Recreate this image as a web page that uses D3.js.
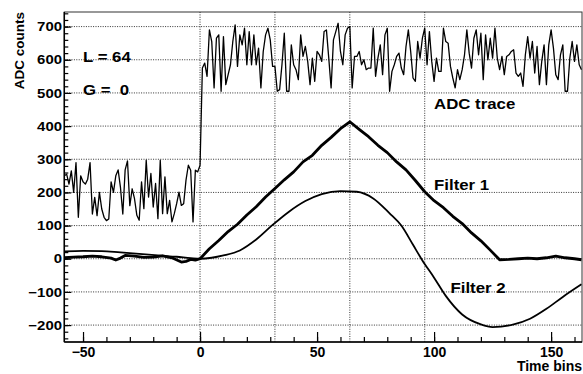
<!DOCTYPE html>
<html>
<head>
<meta charset="utf-8">
<script src="https://cdn.jsdelivr.net/npm/d3@7"></script>
<style>
  body { margin: 0; background: #fff; }
  text { font-family: "Liberation Sans", Arial, Helvetica, sans-serif; font-weight: bold; fill: #000; }
</style>
</head>
<body>
<div class="vis-trace"></div>
<script>
// ADC samples, one per time bin, starting at bin -58
const adcStart = -58;
const adcValues = [
  250, 255, 225, 265, 200, 290, 125, 250, 232, 225, 240, 290, 135, 185, 130, 200, 150, 125, 115, 120,
  232, 200, 250, 268, 215, 135, 268, 295,
  160, 211, 181, 131, 116, 232, 151, 297, 186, 257, 156, 227, 121, 297, 136, 247, 136, 176, 111, 136,
  166, 201, 161, 166, 237, 282, 267, 111, 267, 262, 282,
  575, 590, 550, 690, 655, 515, 665, 675, 505, 670, 525, 555, 585, 655, 705, 580, 675, 645, 695, 585,
  685, 585, 675, 585, 635, 515, 625, 675, 695, 660, 580, 580, 505, 510, 585, 680, 505, 505, 645, 585,
  570, 540, 675, 610, 640, 595, 525, 605, 535, 625, 615, 595, 685, 690, 605, 515, 660, 685, 710, 625,
  585, 675, 695, 700, 515, 610, 610, 625, 585, 600, 570, 575, 575, 695, 550, 605, 645, 555, 675, 695,
  505, 565, 585, 610, 620, 575, 555, 640, 690, 625, 545, 535, 655, 605, 665, 695, 585, 685, 595, 535,
  605, 565, 565, 695, 655, 650, 580, 545, 515, 570, 540, 570, 615, 690, 620, 575, 665, 690, 615, 680,
  540, 675, 600, 665, 605, 695, 605, 570, 610, 555, 610, 615, 625, 630, 560, 550, 560, 520, 615, 670,
  605, 655, 560, 640, 525, 595, 645, 525, 645, 690, 635, 555, 540, 615, 645, 505, 505, 605, 655, 595,
  645, 585, 570
];

// Filter 1 (trapezoid, thick line)
const f1Bins = [-58, -54, -50, -46, -42, -38, -36, -34, -32, -28, -24, -20, -16, -12, -8, -6, -4, -2, 0,
  4, 8, 12, 16, 20, 24, 28, 32, 36, 40, 44, 48, 52, 56, 60, 64,
  68, 72, 76, 80, 84, 88, 92, 96, 100, 104, 108, 112, 116, 120, 124, 128,
  132, 136, 140, 144, 148, 152, 156, 160, 163];
const f1Values = [3, 5, 6, 8, 6, 2, -4, 2, 10, 8, 4, 5, 9, 3, -10, -8, -2, -4, 0,
  30, 55, 82, 104, 132, 157, 186, 212, 238, 262, 292, 312, 342, 366, 392, 413,
  390, 368, 342, 320, 292, 268, 236, 202, 175, 154, 128, 106, 78, 54, 26, -3,
  -2, 0, 2, 0, 3, 8, 3, 0, -3];

// Filter 2 (smooth thin line)
const f2Bins = [-58, -50, -42, -34, -26, -18, -10, -4, 0, 5, 10, 17, 24, 31, 38, 45, 52, 60, 67, 74,
  81, 86, 91, 95, 100, 105, 112, 120, 125, 134, 141, 148, 155, 163];
const f2Values = [22, 24, 23, 19, 15, 10, 6, 2, 0, 3, 10, 25, 58, 102, 142, 174, 195, 204, 202, 182,
  137, 100, 42, -5, -57, -112, -168, -198, -206, -198, -181, -151, -115, -77];

const xMajor = [-50, 0, 50, 100, 150];
const xMinor = [-50, -40, -30, -20, -10, 0, 10, 20, 30, 40, 50, 60, 70, 80, 90, 100, 110, 120, 130, 140, 150, 160];
const yMajor = [-200, -100, 0, 100, 200, 300, 400, 500, 600, 700];
const yMinor = d3.range(-240, 741, 20);
const gridX = [0, 32, 64, 96];

const labels = [
  { text: 'L = 64', bin: -50, val: 594 },
  { text: 'G =  0', bin: -50, val: 494 },
  { text: 'ADC trace', bin: 100, val: 453 },
  { text: 'Filter 1', bin: 100, val: 206 },
  { text: 'Filter 2', bin: 107, val: -102 }
];

const width = 583, height = 374;
const margin = { top: 12, right: 1, bottom: 32, left: 64.3 };
const innerWidth = width - margin.left - margin.right;
const innerHeight = height - margin.top - margin.bottom;

const svg = d3.select('.vis-trace').append('svg').attr('width', width).attr('height', height);
const g = svg.append('g').attr('transform', `translate(${margin.left},${margin.top})`);

const xScale = d3.scaleLinear().domain([-58, 163.2]).range([0, innerWidth]);
const yScale = d3.scaleLinear().domain([-251, 744]).range([innerHeight, 0]);

// dotted grid
g.append('g').selectAll('line').data(yMajor).enter().append('line')
  .attr('x1', 0).attr('x2', innerWidth)
  .attr('y1', d => yScale(d)).attr('y2', d => yScale(d))
  .attr('stroke', '#333').attr('stroke-width', 1).attr('stroke-dasharray', '1,1.4');
g.append('g').selectAll('line').data(gridX).enter().append('line')
  .attr('y1', 0).attr('y2', innerHeight)
  .attr('x1', d => xScale(d)).attr('x2', d => xScale(d))
  .attr('stroke', '#333').attr('stroke-width', 1).attr('stroke-dasharray', '1,1.4');

// curves
g.append('clipPath').attr('id', 'clip').append('rect').attr('width', innerWidth).attr('height', innerHeight);
const plot = g.append('g').attr('clip-path', 'url(#clip)');

const adcLine = d3.line().x((d, i) => xScale(adcStart + i)).y(d => yScale(d));
plot.append('path').datum(adcValues).attr('d', adcLine)
  .attr('fill', 'none').attr('stroke', '#000').attr('stroke-width', 1.3).attr('stroke-linejoin', 'round');

const f1Line = d3.line().x((d, i) => xScale(f1Bins[i])).y(d => yScale(d));
plot.append('path').datum(f1Values).attr('d', f1Line)
  .attr('fill', 'none').attr('stroke', '#000').attr('stroke-width', 2.8).attr('stroke-linejoin', 'round');

const f2Line = d3.line().curve(d3.curveMonotoneX).x((d, i) => xScale(f2Bins[i])).y(d => yScale(d));
plot.append('path').datum(f2Values).attr('d', f2Line)
  .attr('fill', 'none').attr('stroke', '#000').attr('stroke-width', 1.8);

// frame
g.append('rect').attr('width', innerWidth).attr('height', innerHeight)
  .attr('fill', 'none').attr('stroke', '#333').attr('stroke-width', 1);

// axes (ticks drawn inside the frame)
const yAxisMinor = d3.axisLeft(yScale).tickValues(yMinor).tickSize(-4).tickFormat('');
g.append('g').call(yAxisMinor).call(a => a.select('.domain').remove())
  .call(a => a.selectAll('text').remove());
const yAxis = d3.axisLeft(yScale).tickValues(yMajor).tickSize(-7).tickPadding(2).tickFormat(d3.format('d'));
const yAxisG = g.append('g').call(yAxis);
yAxisG.select('.domain').remove();
yAxisG.selectAll('text').style('font-size', '13px').attr('transform', 'scale(1.15,1)');

const xAxisMinor = d3.axisBottom(xScale).tickValues(xMinor).tickSize(-5).tickFormat('');
g.append('g').attr('transform', `translate(0,${innerHeight})`).call(xAxisMinor)
  .call(a => a.select('.domain').remove())
  .call(a => a.selectAll('text').remove());
const xAxis = d3.axisBottom(xScale).tickValues(xMajor).tickSize(-10).tickPadding(0).tickFormat(d3.format('d'));
const xAxisG = g.append('g').attr('transform', `translate(0,${innerHeight})`).call(xAxis);
xAxisG.select('.domain').remove();
xAxisG.selectAll('text').style('font-size', '14px').attr('dy', null).attr('y', 14.5);
g.selectAll('.tick line').attr('stroke', '#000').attr('stroke-width', 1.2);

g.append('line').attr('x1', 0).attr('x2', 0).attr('y1', 0).attr('y2', innerHeight)
  .attr('stroke', '#000').attr('stroke-width', 1.5);
g.append('line').attr('x1', 0).attr('x2', innerWidth).attr('y1', innerHeight).attr('y2', innerHeight)
  .attr('stroke', '#000').attr('stroke-width', 1.5);

// axis titles
svg.append('text')
  .attr('transform', `translate(24,12) rotate(-90)`)
  .attr('text-anchor', 'end')
  .style('font-size', '13.5px')
  .text('ADC counts');
svg.append('text')
  .attr('x', 582).attr('y', 371)
  .attr('text-anchor', 'end')
  .style('font-size', '14px')
  .text('Time bins');

// annotations
labels.forEach(l => {
  g.append('text')
    .attr('transform', `translate(${xScale(l.bin)},${yScale(l.val)}) scale(1.12,1)`)
    .style('font-size', '15px')
    .style('white-space', 'pre')
    .attr('xml:space', 'preserve')
    .text(l.text);
});
</script>
</body>
</html>
